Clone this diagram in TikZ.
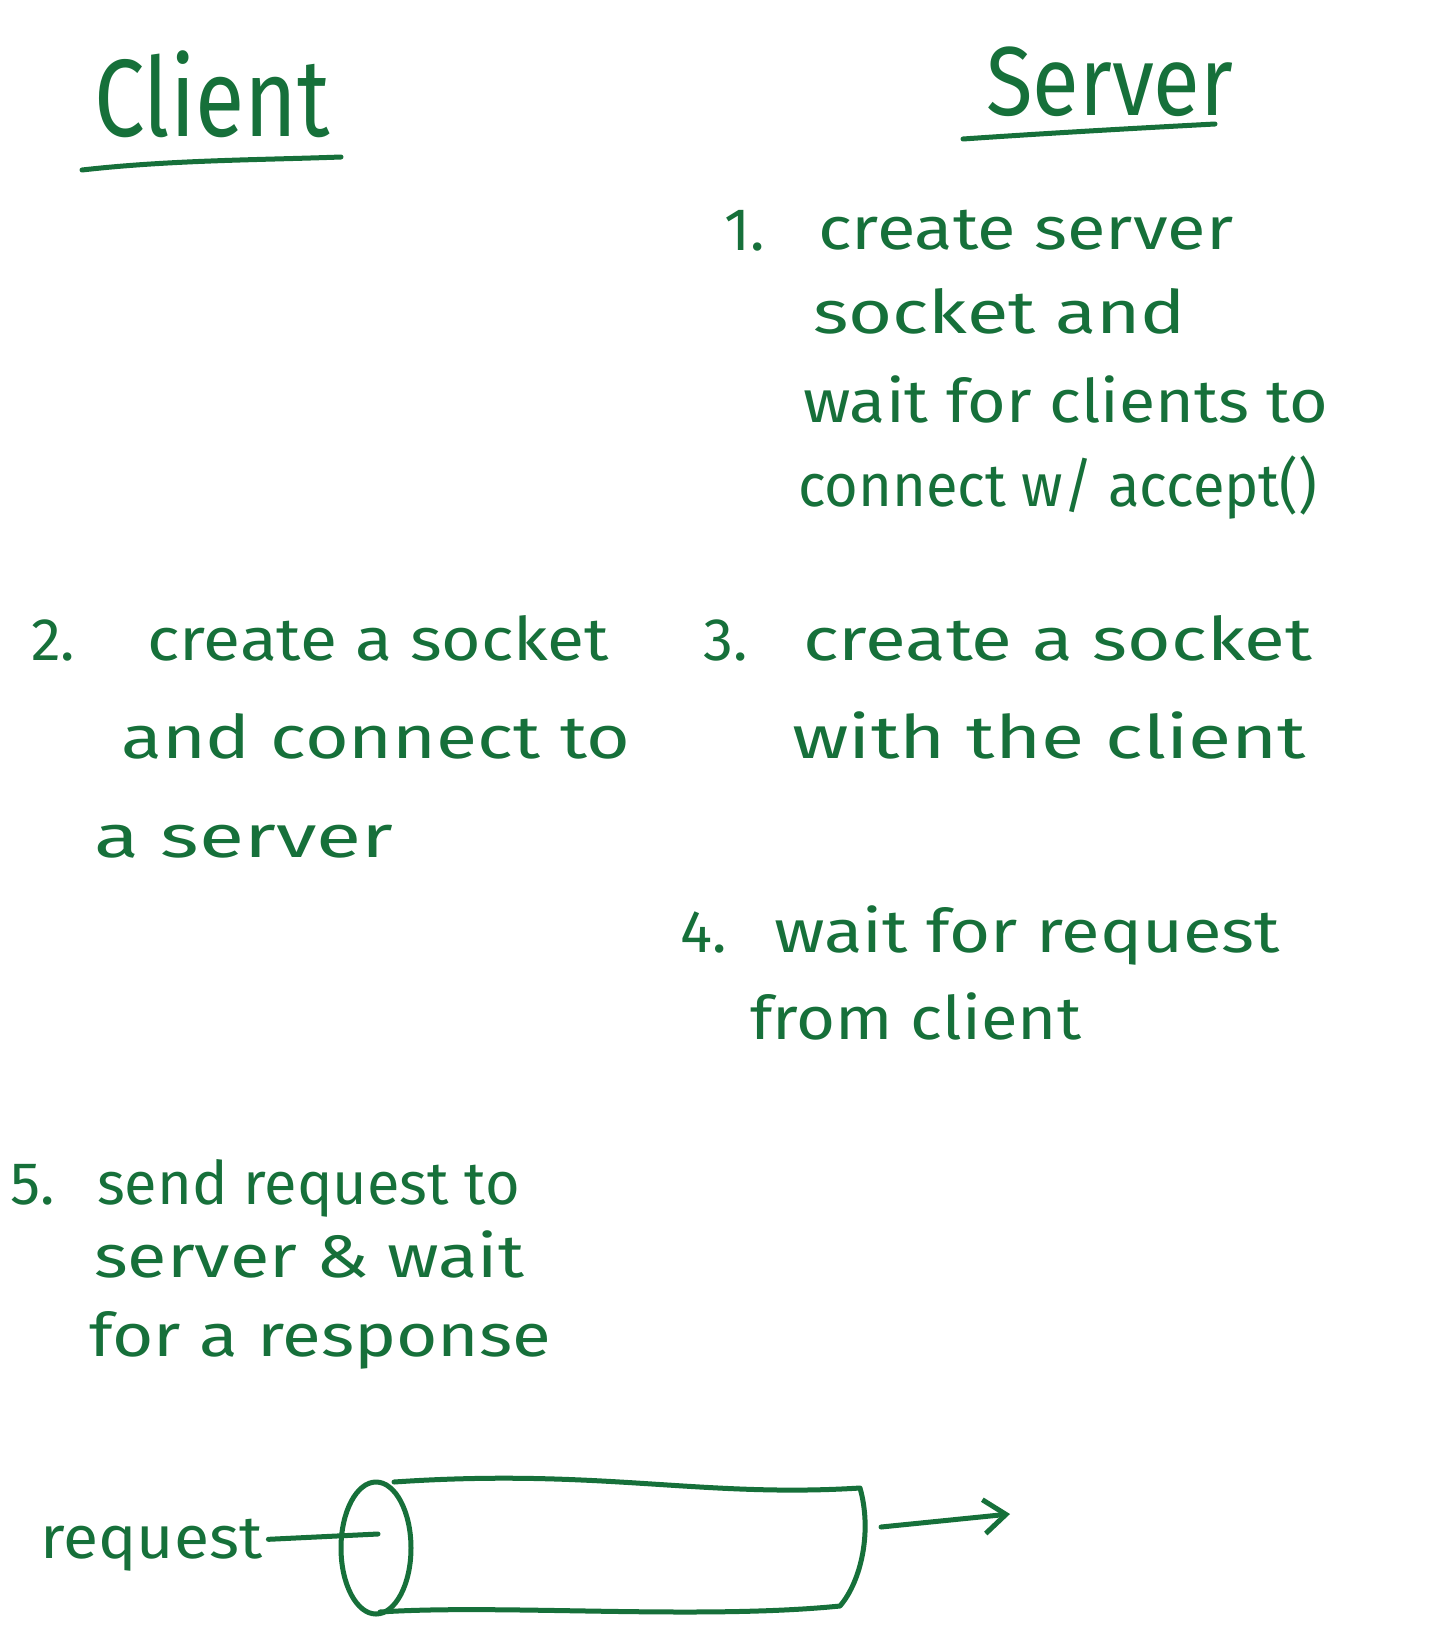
\documentclass[tikz,border=0pt]{standalone}
\usepackage{fontspec}
\setmainfont{Fira Sans}
\usetikzlibrary{shapes.geometric,arrows.meta}
\definecolor{ink}{RGB}{22,112,58}
\newcommand{\fitw}[2]{\resizebox{#1pt}{\height}{#2}}
\tikzset{
  txt/.style={text=ink, inner sep=0pt, anchor=mid west, font=\fontsize{60}{66}\selectfont},
  title/.style={text=ink, inner sep=0pt, anchor=base west},
  pen/.style={draw=ink, line width=5pt, line cap=round, line join=round},
}
\begin{document}
\begin{tikzpicture}[x=1pt,y=-1pt]
\useasboundingbox[fill=white] (0,0) rectangle (1444,1646);
% titles
\node[title, font=\fontsize{110}{120}\selectfont] (client) at (94,136) {\fitw{236}{Client}};
\node[title, font=\fontsize{98}{110}\selectfont] (server) at (986,115) {\fitw{247}{Server}};
\draw[pen] (82,170) .. controls (170,160) and (260,160) .. (341,157);
\draw[pen] (963,139) .. controls (1050,133) and (1140,128) .. (1215,124);
% step 1
\node[txt] (n1) at (724,248) {1.};
\node[txt] (l1a) at (818,247) {\fitw{415}{create server}};
\node[txt] (l1b) at (813,331) {\fitw{373}{socket and}};
\node[txt] (l1c) at (803,420) {\fitw{525}{wait for clients to}};
\node[txt] (l1d) at (798,504) {\fitw{519}{connect w/ accept()}};
% step 2
\node[txt] (n2) at (31,658) {2.};
\node[txt] (l2a) at (147,658) {\fitw{462}{create a socket}};
\node[txt] (l2b) at (121,756) {\fitw{509}{and connect to}};
\node[txt] (l2c) at (94,855) {\fitw{299}{a server}};
% step 3
\node[txt] (n3) at (703,658) {3.};
\node[txt] (l3a) at (803,658) {\fitw{509}{create a socket}};
\node[txt] (l3b) at (792,756) {\fitw{514}{with the client}};
% step 4
\node[txt] (n4) at (680,950) {4.};
\node[txt] (l4a) at (774,950) {\fitw{506}{wait for request}};
\node[txt] (l4b) at (750,1037) {\fitw{331}{from client}};
% step 5
\node[txt] (n5) at (10,1202) {5.};
\node[txt] (l5a) at (97,1202) {\fitw{423}{send request to}};
\node[txt] (l5b) at (94,1275) {\fitw{430}{server \& wait}};
\node[txt] (l5c) at (89,1354) {\fitw{462}{for a response}};
% pipe
\node[txt] (req) at (40,1556) {\fitw{222}{request}};
\node[draw=ink, line width=5pt, ellipse, minimum width=70pt, minimum height=132pt, inner sep=0pt] (front) at (376,1548) {};
\coordinate (reqend) at (378,1534);
\draw[pen] (req.east) ++(6,-6) -- (reqend);
\draw[pen] (394,1482) .. controls (600,1468) and (700,1498) .. (860,1488)
  .. controls (872,1530) and (862,1580) .. (840,1606)
  .. controls (700,1620) and (500,1604) .. (380,1612);
\coordinate (outA) at (881,1527);
\coordinate (outB) at (1010,1514);
\draw[pen, -{Straight Barb[length=22pt,width=34pt,line width=5pt]}] (outA) -- (outB);
\end{tikzpicture}
\end{document}
